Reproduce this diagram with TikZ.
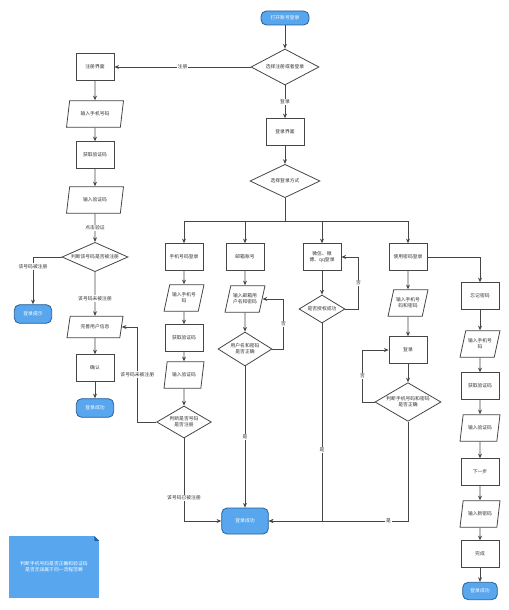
\documentclass[tikz,border=0pt]{standalone}
\usepackage{fontspec}
\newfontfamily\cjk{Noto Sans CJK SC}
\usetikzlibrary{shapes.geometric,arrows.meta}

\definecolor{lineGray}{RGB}{70,70,70}
\definecolor{boxBlue}{RGB}{88,166,238}
\definecolor{edgeBlue}{RGB}{40,95,150}

\tikzset{every picture/.style={line width=0.6pt}}
\tikzset{
  txt/.style={font=\cjk\fontsize{3.6}{4.4}\selectfont, text=black!80},
  proc/.style={txt, draw=lineGray, fill=white, minimum width=28.5pt, minimum height=20pt, inner sep=1pt, align=center},
  io/.style={txt, trapezium, trapezium left angle=66, trapezium right angle=114, trapezium stretches body, draw=lineGray, fill=white, minimum width=30pt, minimum height=20pt, inner sep=1pt, align=center},
  decide/.style={txt, diamond, aspect=2, draw=lineGray, fill=white, inner sep=0pt, align=center},
  term/.style={txt, text=white, rounded corners=4pt, draw=edgeBlue, fill=boxBlue, minimum width=28pt, minimum height=14pt, inner sep=1pt, align=center},
  flow/.style={draw=lineGray, -{Stealth[length=3.5pt,width=3pt]}},
  lbl/.style={txt, fill=white, inner sep=0.8pt},
}

\begin{document}
\begin{tikzpicture}[x=0.75pt,y=0.75pt,yscale=-1,xscale=1]
\useasboundingbox (0,0) rectangle (508,610);

%Shape: Terminal
\node[term, minimum width=36pt, minimum height=10.5pt] (start) at (285,18) {打开账号登录};
%Shape: Diamond
\node[decide, minimum width=51pt, minimum height=27pt] (choose) at (285,67) {选择注册或者登录};

%Register column
\node[proc] (reg) at (95,67) {注册界面};
\node[io, minimum width=42.75pt] (regPhone) at (95,114) {输入手机号码};
\node[proc] (regCode) at (95,155) {获取验证码};
\node[io, minimum width=42.75pt] (regInput) at (95,200) {输入验证码};
\node[decide, minimum width=49.5pt, minimum height=22pt] (regCheck) at (95,257) {判断该号码是否被注册};
\node[term] (regTip) at (33,314) {登录提示};
\node[io, minimum width=42pt, minimum height=16pt] (regInfo) at (95,327) {完善用户信息};
\node[proc] (regOk) at (95,368) {确认};
\node[term] (regDone) at (95,408) {登录成功};

%Login interface
\node[proc] (login) at (285,132) {登录界面};
\node[decide, minimum width=52.5pt, minimum height=25pt] (ways) at (285,181) {选择登录方式};
\coordinate (bar) at (285,221);

%Column: phone number
\node[proc] (ph1) at (184,257) {手机号码登录};
\node[io] (ph2) at (184,298) {输入手机号\\码};
\node[proc] (ph3) at (184,338) {获取验证码};
\node[io] (ph4) at (184,375) {输入验证码};
\node[decide, minimum width=41pt, minimum height=24pt] (phCheck) at (184,422) {判断是否号码\\是否注册};
\node[term, minimum width=35pt, minimum height=19.5pt] (done) at (245,521) {登录成功};

%Column: mail account
\node[proc] (em1) at (245,257) {邮箱账号};
\node[io] (em2) at (245,299) {输入邮箱用\\户名和密码};
\node[decide, minimum width=40.5pt, minimum height=25.5pt] (emCheck) at (245,349) {用户名和密码\\是否正确};

%Column: third party
\node[proc] (wx1) at (322,257) {微信、微\\博、qq登录};
\node[decide, minimum width=34.5pt, minimum height=21pt] (wxCheck) at (322,309) {是否授权成功};

%Column: password
\node[proc] (pw1) at (408,257) {使用密码登录};
\node[io] (pw2) at (408,303) {输入手机号\\码和密码};
\node[proc] (pw3) at (408,350) {登录};
\node[decide, minimum width=49.5pt, minimum height=29pt] (pwCheck) at (408,402) {判断手机号码和密码\\是否正确};

%Column: forgot password
\node[proc] (fg1) at (480,296) {忘记密码};
\node[io] (fg2) at (480,344) {输入手机号\\码};
\node[proc] (fg3) at (480,386) {获取验证码};
\node[io] (fg4) at (480,428) {输入验证码};
\node[proc] (fg5) at (480,472) {下一步};
\node[io] (fg6) at (480,514) {输入新密码};
\node[proc] (fg7) at (480,554) {完成};
\node[term, minimum width=26pt, minimum height=13pt] (fgEnd) at (480,591) {登录成功};

%Shape: Note
\node[txt, text=white, fill=boxBlue, minimum width=67.5pt, minimum height=46pt, inner sep=1pt, align=center] (note) at (54,567) {判断手机号码是否正确和验证码\\是否无误属于同一流程范畴};
\fill[white] (note.north east) -- ++(-5,0) -- ++(5,5) -- cycle;
\fill[edgeBlue] (note.north east) ++(-5,0) -- ++(5,5) -- ++(-5,0) -- cycle;

%Straight Lines
\draw[flow] (start) -- (choose);
\draw[flow] (choose) -- node[lbl]{注册} (reg);
\draw[flow] (choose) -- node[lbl]{登录} (login);
\draw[flow] (reg) -- (regPhone);
\draw[flow] (regPhone) -- (regCode);
\draw[flow] (regCode) -- (regInput);
\draw[flow] (regInput) -- node[lbl]{点击验证} (regCheck);
\draw[flow] (regCheck.west) -| node[lbl, pos=0.6]{该号码被注册} (regTip);
\draw[flow] (regCheck) -- node[lbl, pos=0.6]{该号码未被注册} (regInfo);
\draw[flow] (regInfo) -- (regOk);
\draw[flow] (regOk) -- (regDone);

\draw[flow] (login) -- (ways);
\draw[lineGray] (ways) -- (bar);
\draw[flow] (bar) -| (ph1);
\draw[flow] (bar) -| (em1);
\draw[flow] (bar) -| (wx1);
\draw[flow] (bar) -| (pw1);

\draw[flow] (ph1) -- (ph2);
\draw[flow] (ph2) -- (ph3);
\draw[flow] (ph3) -- (ph4);
\draw[flow] (ph4) -- (phCheck);
\draw[flow] (phCheck.west) -- ++(-19,0) |- node[lbl, pos=0.25]{该号码未被注册} (regInfo.east);
\draw[flow] (phCheck) |- node[lbl, pos=0.36]{该号码已被注册} (done);

\draw[flow] (em1) -- (em2);
\draw[flow] (em2) -- (emCheck);
\draw[flow] (emCheck.east) -- ++(11,0) |- node[lbl, pos=0.25]{否} (em2.east);
\draw[flow] (emCheck) -- node[lbl]{是} (done);

\draw[flow] (wx1) -- (wxCheck);
\draw[flow] (wxCheck.east) -- ++(13,0) |- node[lbl, pos=0.25]{否} (wx1.east);
\draw[flow] (wxCheck) |- node[lbl, pos=0.32]{是} (done);

\draw[flow] (pw1) -- (pw2);
\draw[flow] (pw2) -- (pw3);
\draw[flow] (pw3) -- (pwCheck);
\draw[flow] (pwCheck.west) -- ++(-12,0) |- node[lbl, pos=0.25]{否} (pw3.west);
\draw[flow] (pwCheck) |- node[lbl, pos=0.57]{是} (done);

\draw[flow] (pw1) -| (fg1);
\draw[flow] (fg1) -- (fg2);
\draw[flow] (fg2) -- (fg3);
\draw[flow] (fg3) -- (fg4);
\draw[flow] (fg4) -- (fg5);
\draw[flow] (fg5) -- (fg6);
\draw[flow] (fg6) -- (fg7);
\draw[flow] (fg7) -- (fgEnd);

\end{tikzpicture}
\end{document}
